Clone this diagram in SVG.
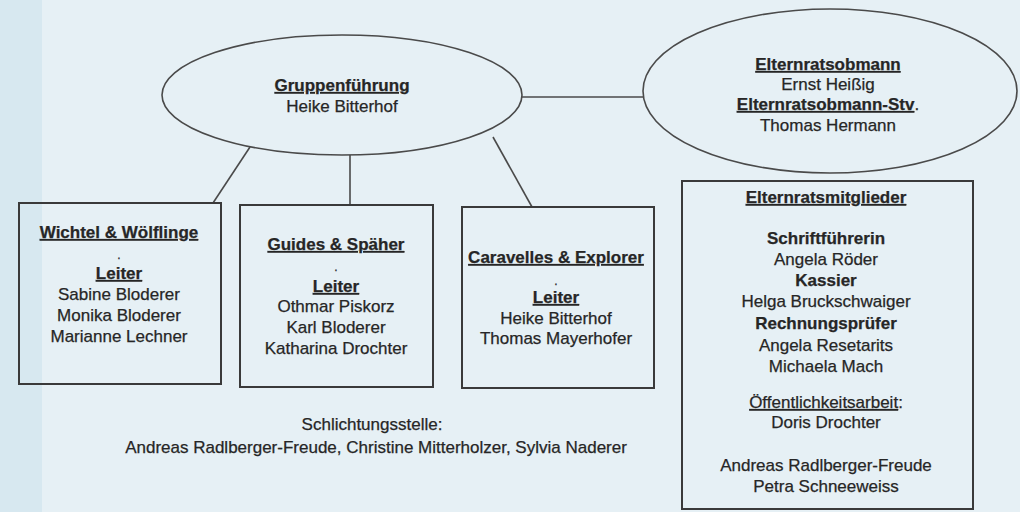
<svg xmlns="http://www.w3.org/2000/svg" width="1020" height="512" viewBox="0 0 1020 512">
<style>
text{font-family:"Liberation Sans",Arial,sans-serif;font-size:17px;fill:#262626;text-anchor:middle;stroke:#262626;stroke-width:0.25}
.b{font-weight:bold}
.u{text-decoration:underline}
.sh{fill:none;stroke:#4a4a4a;stroke-width:1.6}
.bx{fill:none;stroke:#3a3a3a;stroke-width:2}
.ln{stroke:#4a4a4a;stroke-width:1.6;fill:none}
.dot{font-size:12px}
</style>
<rect x="0" y="0" width="1020" height="512" fill="#e6f0f5"/>
<rect x="0" y="0" width="42" height="512" fill="#d7e8f0"/>
<g id="connectors">
<line class="ln" x1="522" y1="97" x2="643" y2="97"/>
<line class="ln" x1="250" y1="147" x2="213" y2="203"/>
<line class="ln" x1="350" y1="155" x2="350" y2="205"/>
<line class="ln" x1="493" y1="137" x2="532" y2="207"/>
</g>
<g id="gruppenfuehrung">
<ellipse class="sh" cx="342" cy="95" rx="180" ry="60"/>
<text x="342" y="91" class="b u">Gruppenführung</text>
<text x="342" y="112">Heike Bitterhof</text>
</g>
<g id="elternratsobmann">
<ellipse class="sh" cx="830" cy="91" rx="187" ry="82"/>
<text x="828" y="70" class="b u">Elternratsobmann</text>
<text x="828" y="90">Ernst Heißig</text>
<text x="828" y="110"><tspan class="b u">Elternratsobmann-Stv</tspan>.</text>
<text x="828" y="131">Thomas Hermann</text>
</g>
<g id="wichtel">
<rect class="bx" x="19" y="203" width="202" height="181"/>
<text x="119" y="238" class="b u">Wichtel &amp; Wölflinge</text>
<text x="119" y="259" class="dot">.</text>
<text x="119" y="279" class="b u">Leiter</text>
<text x="119" y="300">Sabine Bloderer</text>
<text x="119" y="321">Monika Bloderer</text>
<text x="119" y="342">Marianne Lechner</text>
</g>
<g id="guides">
<rect class="bx" x="240" y="205" width="193" height="182"/>
<text x="336" y="250" class="b u">Guides &amp; Späher</text>
<text x="336" y="271" class="dot">.</text>
<text x="336" y="292" class="b u">Leiter</text>
<text x="336" y="312">Othmar Piskorz</text>
<text x="336" y="333">Karl Bloderer</text>
<text x="336" y="354">Katharina Drochter</text>
</g>
<g id="caravelles">
<rect class="bx" x="462" y="207" width="192" height="181"/>
<text x="556" y="263" class="b u">Caravelles &amp; Explorer</text>
<text x="556" y="285" class="dot">.</text>
<text x="556" y="303" class="b u">Leiter</text>
<text x="556" y="324">Heike Bitterhof</text>
<text x="556" y="344">Thomas Mayerhofer</text>
</g>
<g id="elternratsmitglieder">
<rect class="bx" x="682" y="181" width="291" height="328"/>
<text x="826" y="203" class="b u">Elternratsmitglieder</text>
<text x="826" y="244" class="b">Schriftführerin</text>
<text x="826" y="265">Angela Röder</text>
<text x="826" y="286" class="b">Kassier</text>
<text x="826" y="307">Helga Bruckschwaiger</text>
<text x="826" y="329" class="b">Rechnungsprüfer</text>
<text x="826" y="351">Angela Resetarits</text>
<text x="826" y="372">Michaela Mach</text>
<text x="826" y="408"><tspan class="u">Öffentlichkeitsarbeit</tspan>:</text>
<text x="826" y="428">Doris Drochter</text>
<text x="826" y="471">Andreas Radlberger-Freude</text>
<text x="826" y="492">Petra Schneeweiss</text>
</g>
<g id="schlichtungsstelle">
<text x="372" y="430">Schlichtungsstelle:</text>
<text x="376" y="453">Andreas Radlberger-Freude, Christine Mitterholzer, Sylvia Naderer</text>
</g>
</svg>
